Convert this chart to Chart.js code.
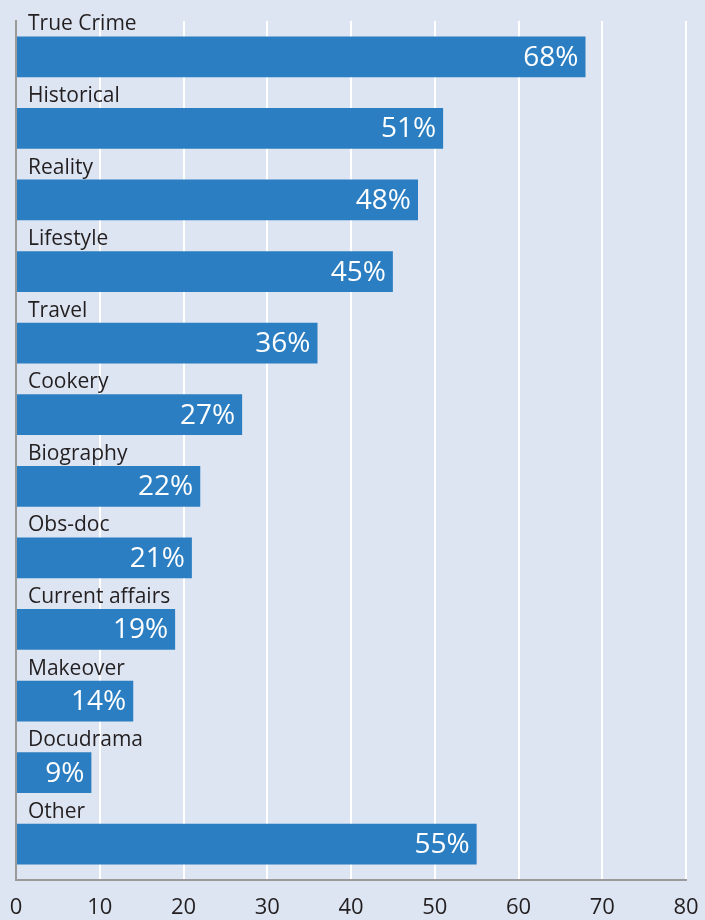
<!DOCTYPE html>
<html lang="en">
    <head>
        <meta charset="UTF-8">
        <title>Genres</title>
        <script src="https://cdn.jsdelivr.net/npm/chart.js@4/dist/chart.umd.min.js"></script>
        <style>
            html, body { margin: 0; padding: 0; background: #dde5f3; }
            #wrap { width: 705px; height: 920px; }
        </style>
    </head>
    <body>
        <div id="wrap"><canvas id="grafica"></canvas></div>
        <script>
        // categories and their shares (%)
        const genres = ["True Crime", "Historical", "Reality", "Lifestyle", "Travel", "Cookery",
            "Biography", "Obs-doc", "Current affairs", "Makeover", "Docudrama", "Other"];
        const shares = [68, 51, 48, 45, 36, 27, 22, 21, 19, 14, 9, 55];
        const xTicks = [0, 10, 20, 30, 40, 50, 60, 70, 80];

        const FONT = "'Open Sans', 'Noto Sans', sans-serif";

        // genre name above each bar, value inside the bar end
        const barLabels = {
            id: 'barLabels',
            afterDatasetsDraw(chart) {
                const ctx = chart.ctx;
                const meta = chart.getDatasetMeta(0);
                ctx.save();
                meta.data.forEach((bar, i) => {
                    const half = bar.height / 2;
                    ctx.fillStyle = '#231f20';
                    ctx.font = '21px ' + FONT;
                    ctx.textAlign = 'left';
                    ctx.textBaseline = 'alphabetic';
                    ctx.fillText(genres[i], bar.base + 11, bar.y - half - 6);

                    ctx.fillStyle = '#ffffff';
                    ctx.font = '28px ' + FONT;
                    ctx.textAlign = 'right';
                    ctx.textBaseline = 'middle';
                    ctx.fillText(shares[i] + '%', bar.x - 7, bar.y + 1);
                });
                ctx.restore();
            }
        };

        new Chart(document.getElementById('grafica'), {
            type: 'bar',
            data: {
                labels: genres,
                datasets: [{
                    data: shares,
                    backgroundColor: '#2b7ec1',
                    borderWidth: 0,
                    barPercentage: 0.57,
                    categoryPercentage: 1
                }]
            },
            options: {
                indexAxis: 'y',
                responsive: true,
                maintainAspectRatio: false,
                animation: false,
                layout: { padding: { left: 16, right: 19, top: 21, bottom: 0 } },
                plugins: { legend: { display: false }, tooltip: { enabled: false } },
                scales: {
                    x: {
                        min: 0,
                        max: 80,
                        afterBuildTicks: s => { s.ticks = xTicks.map(v => ({ value: v })); },
                        // fixed axis height, no extra room for the end labels
                        afterFit: s => { s.height = 40; s.paddingLeft = 0; s.paddingRight = 0; },
                        grid: { color: '#ffffff', lineWidth: 2, drawTicks: false },
                        border: { display: true, color: '#9a9a9a', width: 2 },
                        ticks: { color: '#231f20', font: { size: 22, family: FONT }, padding: 15 }
                    },
                    y: {
                        afterFit: s => { s.width = 0; },
                        grid: { display: false },
                        border: { display: true, color: '#9a9a9a', width: 2 },
                        ticks: { display: false }
                    }
                }
            },
            plugins: [barLabels]
        });
        </script>
    </body>
</html>
